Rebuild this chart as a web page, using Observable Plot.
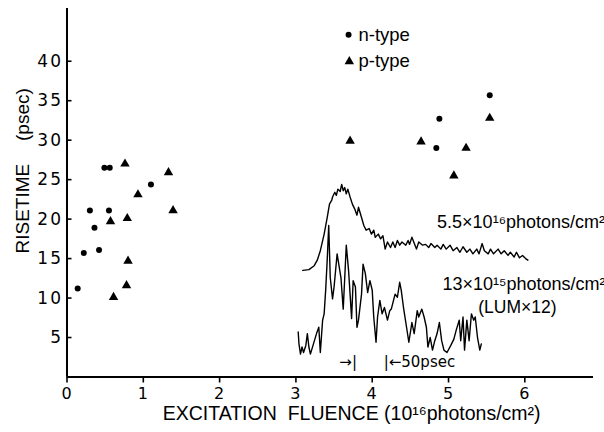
<!DOCTYPE html>
<html><head><meta charset="utf-8">
<script src="https://cdn.jsdelivr.net/npm/d3@7"></script>
<script src="https://cdn.jsdelivr.net/npm/@observablehq/plot@0.6"></script>
<style>
body{margin:0;background:#fff}
g[aria-label="y-axis tick label"] text{letter-spacing:2px}
g[aria-label="x-axis tick label"] text{letter-spacing:1px}
</style>
</head><body><div id="chart"></div>
<script>
// tick values
const xTicks = [0, 1, 2, 3, 4, 5, 6];
const yTicks = [5, 10, 15, 20, 25, 30, 35, 40];

// n-type points (fluence 1e16 photons/cm2, risetime psec)
const nX = [0.14, 0.22, 0.30, 0.36, 0.42, 0.55, 0.49, 0.56, 1.10, 5.54, 4.88, 4.84];
const nY = [11.2, 15.7, 21.1, 18.9, 16.1, 21.1, 26.5, 26.5, 24.4, 35.7, 32.7, 29.0];

// p-type points
const pX = [0.76, 1.33, 0.93, 1.39, 0.57, 0.79, 0.80, 0.78, 0.61, 5.54, 3.71, 4.64, 5.23, 5.07];
const pY = [27.0, 25.9, 23.1, 21.1, 19.7, 20.1, 14.7, 11.6, 10.1, 32.8, 29.9, 29.8, 29.0, 25.5];

// inset trace, 5.5e16 photons/cm2 (drawn in chart units)
const hiX = [3.09,3.17,3.24,3.28,3.32,3.37,3.41,3.44,3.47,3.48,3.51,3.53,3.55,3.58,3.60,3.62,3.64,3.66,3.68,3.71,3.74,3.77,3.80,3.82,3.86,3.89,3.92,3.96,3.99,4.02,4.04,4.08,4.11,4.14,4.17,4.20,4.24,4.27,4.30,4.33,4.36,4.39,4.44,4.47,4.49,4.52,4.58,4.61,4.66,4.70,4.74,4.77,4.82,4.85,4.90,4.93,4.97,5.02,5.06,5.11,5.15,5.19,5.24,5.28,5.32,5.37,5.40,5.44,5.47,5.52,5.55,5.59,5.65,5.69,5.73,5.78,5.81,5.86,5.89,5.93,5.97,6.01,6.04];
const hiY = [13.5,13.6,14.1,14.8,16.0,18.1,20.2,21.9,22.4,22.8,23.4,23.0,23.8,23.5,24.4,23.6,24.0,23.2,23.8,22.8,21.9,21.3,20.5,21.5,20.2,19.2,18.6,18.8,18.1,18.6,17.7,18.1,17.5,17.9,16.2,17.1,16.4,17.1,16.4,17.3,16.7,17.1,16.7,17.3,16.8,17.7,16.2,17.1,16.7,16.8,16.4,16.9,16.4,16.7,16.2,16.8,16.2,16.7,16.0,16.4,15.8,16.5,15.8,16.2,15.6,16.2,15.6,16.9,16.0,15.6,16.2,15.6,16.2,15.6,16.0,15.4,15.8,15.2,15.8,15.1,15.4,15.0,14.8];

// inset trace, 13e15 photons/cm2 (LUM x12)
const loX = [3.03,3.04,3.06,3.08,3.10,3.13,3.15,3.17,3.19,3.23,3.27,3.30,3.32,3.35,3.37,3.39,3.41,3.43,3.45,3.48,3.50,3.54,3.59,3.62,3.64,3.66,3.69,3.71,3.73,3.75,3.78,3.80,3.82,3.86,3.88,3.91,3.94,3.97,4.00,4.02,4.05,4.07,4.10,4.13,4.16,4.20,4.23,4.25,4.30,4.33,4.36,4.38,4.41,4.45,4.48,4.52,4.55,4.59,4.61,4.65,4.68,4.71,4.73,4.76,4.79,4.82,4.85,4.88,4.91,4.94,4.98,5.03,5.07,5.10,5.14,5.16,5.19,5.21,5.24,5.27,5.30,5.33,5.35,5.38,5.41,5.43];
const loY = [5.7,4.2,2.9,3.8,3.1,4.0,5.5,3.8,2.9,4.2,5.5,6.3,3.1,7.2,8.0,11.0,14.8,19.2,12.6,9.9,11.4,15.6,12.6,8.6,12.6,16.7,13.5,10.5,7.4,12.2,11.4,6.3,7.2,10.5,14.3,13.1,10.7,12.2,11.0,7.6,4.4,7.6,9.7,8.0,8.8,7.2,8.4,8.6,10.5,10.1,12.0,11.0,8.8,6.3,4.4,6.9,5.5,8.4,7.6,8.6,7.6,6.3,3.8,5.0,3.4,4.6,5.5,6.9,4.6,3.4,3.1,4.0,4.8,5.9,7.2,4.6,7.6,3.4,7.2,4.6,8.0,7.2,7.6,5.0,3.4,4.2];

// texts
const legendLabels = ["n-type", "p-type"];
const traceLabels = ["5.5×10¹⁶photons/cm²", "13×10¹⁵photons/cm²", "(LUM×12)"];
const scaleLabels = ["→|", "|←50psec"];
const xLabel = "EXCITATION  FLUENCE (10¹⁶photons/cm²)";
const yLabelParts = ["RISETIME", "(psec)"];

const nPts = nX.map((x, i) => ({x, y: nY[i]}));
const pPts = pX.map((x, i) => ({x, y: pY[i]}));
const hi = hiX.map((x, i) => ({x, y: hiY[i]}));
const lo = loX.map((x, i) => ({x, y: loY[i]}));

const font = "Liberation Sans, Arial, sans-serif";
const tickFont = "DejaVu Sans, sans-serif";

const chart = Plot.plot({
  width: 604, height: 432,
  marginLeft: 66.5, marginRight: 11, marginTop: 8, marginBottom: 55.5,
  x: {domain: [0, 6.9]},
  y: {domain: [0, 46.68]},
  style: {fontFamily: font, color: "#000", background: "#fff"},
  marks: [
    Plot.axisX({ticks: xTicks, tickSize: 6, tickPadding: 5, fontSize: 16, fontFamily: tickFont, label: null, strokeWidth: 1.6, tickFormat: d => String(d)}),
    Plot.axisY({ticks: yTicks, tickSize: -5, tickPadding: 9, fontSize: 17, fontFamily: tickFont, label: null, strokeWidth: 1.6, tickFormat: d => String(d)}),
    Plot.ruleX([0], {strokeWidth: 2}),
    Plot.ruleY([0], {strokeWidth: 2}),
    Plot.dot(nPts, {x: "x", y: "y", r: 3, fill: "#000", symbol: "circle"}),
    Plot.dot(pPts, {x: "x", y: "y", r: 3.5, fill: "#000", symbol: "triangle"}),
    Plot.line(hi, {x: "x", y: "y", stroke: "#000", strokeWidth: 1.4}),
    Plot.line(lo, {x: "x", y: "y", stroke: "#000", strokeWidth: 1.4}),
    // legend
    Plot.dot([legendLabels[0]], {x: 3.69, y: 43.35, r: 3, fill: "#000", symbol: "circle"}),
    Plot.dot([legendLabels[1]], {x: 3.70, y: 39.97, r: 3.5, fill: "#000", symbol: "triangle"}),
    Plot.text([legendLabels[0]], {x: 3.82, y: 43.35, text: d => d, textAnchor: "start", fontSize: 18.5}),
    Plot.text([legendLabels[1]], {x: 3.82, y: 39.97, text: d => d, textAnchor: "start", fontSize: 18.5}),
    // trace annotations
    Plot.text([traceLabels[0]], {x: 4.85, y: 19.6, text: d => d, textAnchor: "start", fontSize: 18}),
    Plot.text([traceLabels[1]], {x: 4.92, y: 11.8, text: d => d, textAnchor: "start", fontSize: 18}),
    Plot.text([traceLabels[2]], {x: 5.39, y: 8.84, text: d => d, textAnchor: "start", fontSize: 17.5}),
    Plot.text([scaleLabels[0]], {x: 3.80, y: 1.87, text: d => d, textAnchor: "end", fontSize: 15, fontFamily: tickFont}),
    Plot.text([scaleLabels[1]], {x: 4.15, y: 1.87, text: d => d, textAnchor: "start", fontSize: 15, fontFamily: tickFont}),
    // axis titles
    Plot.text([xLabel], {x: 3.73, frameAnchor: "bottom", dy: 43, text: d => d, fontSize: 19.5}),
    Plot.text([yLabelParts[0]], {y: 15.64, frameAnchor: "left", dx: -44.5, rotate: -90, text: d => d, fontSize: 19}),
    Plot.text([yLabelParts[1]], {y: 29.9, frameAnchor: "left", dx: -44.5, rotate: -90, text: d => d, fontSize: 19})
  ]
});
document.getElementById("chart").appendChild(chart);
</script>
</body></html>
